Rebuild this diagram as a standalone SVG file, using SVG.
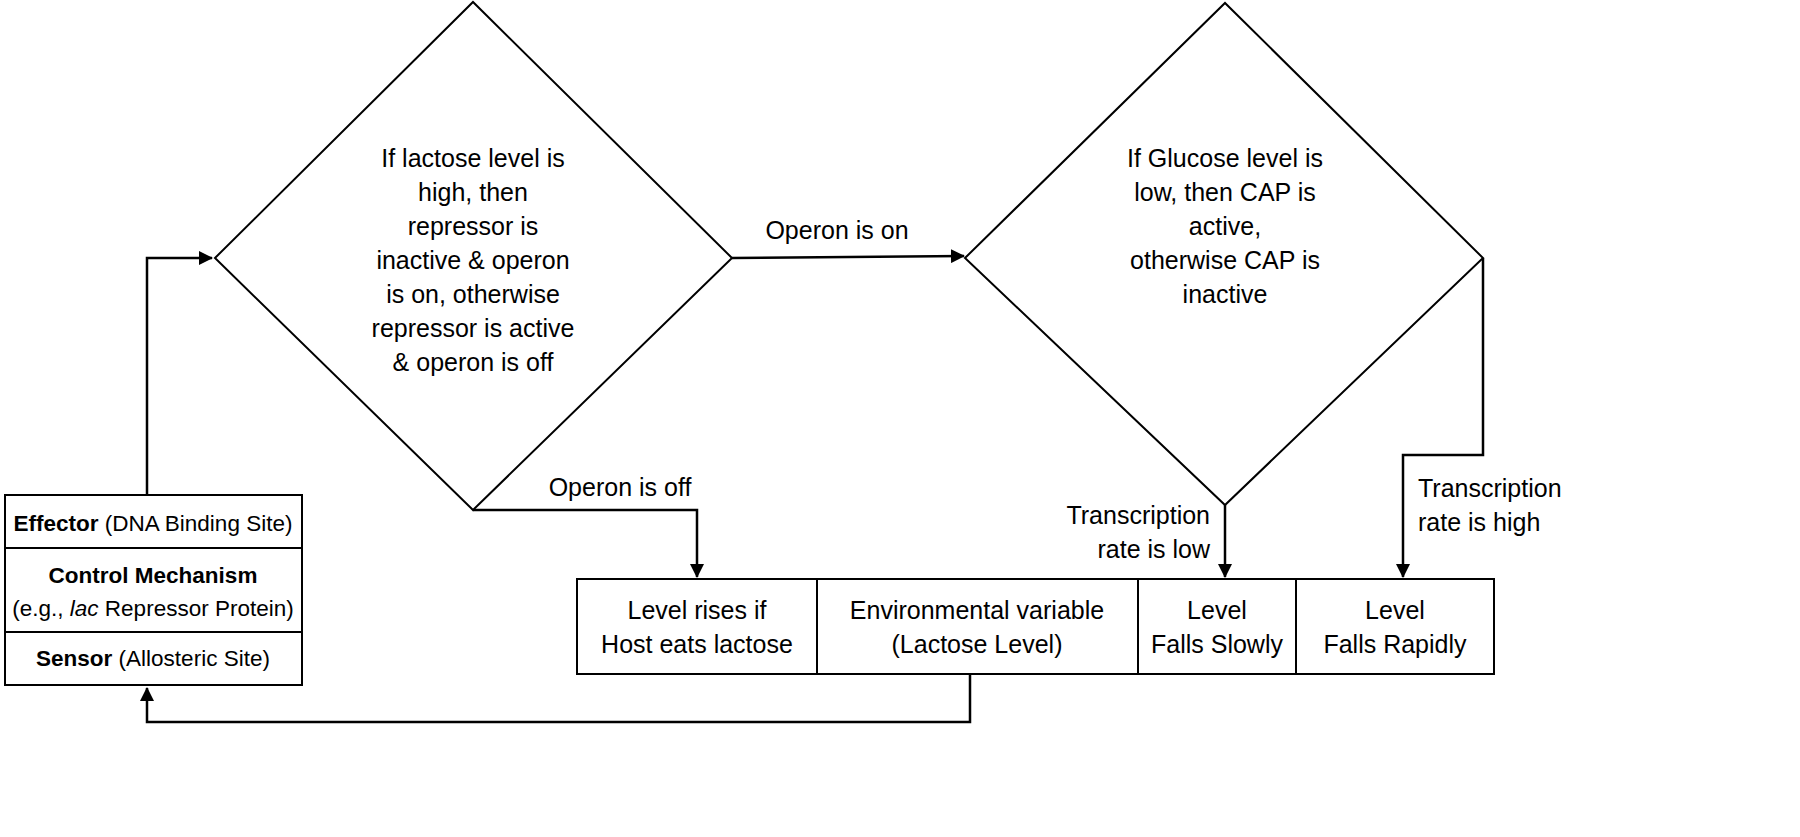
<svg xmlns="http://www.w3.org/2000/svg" width="1800" height="837" viewBox="0 0 1800 837">
<style>
.s{fill:#fff;stroke:#000;stroke-width:2}
text{font-family:"Liberation Sans",Arial,sans-serif;font-size:25px;fill:#000}
.c{text-anchor:middle}
.sm{font-size:22.5px}
.l{fill:none;stroke:#000;stroke-width:2.5}
</style>
<defs><marker id="b" markerWidth="14" markerHeight="14" refX="13" refY="7" orient="auto" markerUnits="userSpaceOnUse" viewBox="0 0 14 14"><path d="M0,0L14,7L0,14z" fill="#000"/></marker></defs>
<rect width="1800" height="837" fill="#fff"/>
<g id="connectors">
<path class="l" d="M147,495V258H212" marker-end="url(#b)"/>
<path class="l" d="M732,258L964,256" marker-end="url(#b)"/>
<path class="l" d="M473,510H697V577" marker-end="url(#b)"/>
<path class="l" d="M1225,505V577" marker-end="url(#b)"/>
<path class="l" d="M1483,258V455H1403V577" marker-end="url(#b)"/>
<path class="l" d="M970,674V722H147V688" marker-end="url(#b)"/>
<text x="837" y="239" class="c">Operon is on</text>
<text x="620" y="496" class="c">Operon is off</text>
<text x="1210" y="524" text-anchor="end">Transcription</text>
<text x="1210" y="558" text-anchor="end">rate is low</text>
<text x="1418" y="497">Transcription</text>
<text x="1418" y="531">rate is high</text>
</g>
<g id="d1"><polygon class="s" points="215,258 473,2 732,258 473,510"/>
<text class="c" x="473" y="167">If lactose level is</text>
<text class="c" x="473" y="201">high, then</text>
<text class="c" x="473" y="235">repressor is</text>
<text class="c" x="473" y="269">inactive &amp; operon</text>
<text class="c" x="473" y="303">is on, otherwise</text>
<text class="c" x="473" y="337">repressor is active</text>
<text class="c" x="473" y="371">&amp; operon is off</text></g>
<g id="d2"><polygon class="s" points="965,258 1225,3 1483,258 1225,505"/>
<text class="c" x="1225" y="167">If Glucose level is</text>
<text class="c" x="1225" y="201">low, then CAP is</text>
<text class="c" x="1225" y="235">active,</text>
<text class="c" x="1225" y="269">otherwise CAP is</text>
<text class="c" x="1225" y="303">inactive</text></g>
<g id="left">
<rect class="s" x="5" y="495" width="297" height="190"/>
<path class="l" d="M5,548H302M5,632H302" style="stroke-width:2"/>
<text class="c sm" x="153" y="531"><tspan font-weight="bold">Effector</tspan> (DNA Binding Site)</text>
<text class="c sm" x="153" y="583" font-weight="bold">Control Mechanism</text>
<text class="c sm" x="153" y="616">(e.g., <tspan font-style="italic">lac</tspan> Repressor Protein)</text>
<text class="c sm" x="153" y="666"><tspan font-weight="bold">Sensor</tspan> (Allosteric Site)</text>
</g>
<g id="b1"><rect class="s" x="577" y="579" width="240" height="95"/>
<text class="c" x="697" y="619">Level rises if</text><text class="c" x="697" y="653">Host eats lactose</text></g>
<g id="b2"><rect class="s" x="817" y="579" width="321" height="95"/>
<text class="c" x="977" y="619">Environmental variable</text><text class="c" x="977" y="653">(Lactose Level)</text></g>
<g id="b3"><rect class="s" x="1138" y="579" width="158" height="95"/>
<text class="c" x="1217" y="619">Level</text><text class="c" x="1217" y="653">Falls Slowly</text></g>
<g id="b4"><rect class="s" x="1296" y="579" width="198" height="95"/>
<text class="c" x="1395" y="619">Level</text><text class="c" x="1395" y="653">Falls Rapidly</text></g>
</svg>
